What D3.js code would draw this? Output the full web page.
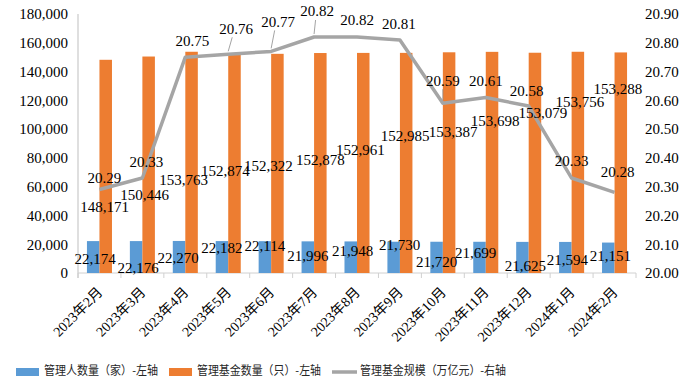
<!DOCTYPE html>
<html>
<head>
<meta charset="utf-8">
<script src="https://cdn.jsdelivr.net/npm/d3@7"></script>
<style>
  body { margin: 0; background: #fff; }
  svg { display: block; }
  .num { font-family: "Liberation Serif", "Times New Roman", serif; font-size: 15px; fill: #000; }
</style>
</head>
<body>
<div id="chart"></div>
<script>
// Data
const months = ["2023年2月", "2023年3月", "2023年4月", "2023年5月", "2023年6月", "2023年7月",
    "2023年8月", "2023年9月", "2023年10月", "2023年11月", "2023年12月", "2024年1月", "2024年2月"];
const managers = [22174, 22176, 22270, 22182, 22114, 21996, 21948, 21730, 21720, 21699, 21625, 21594, 21151];
const funds = [148171, 150446, 153763, 152874, 152322, 152878, 152961, 152985, 153387, 153698, 153079, 153756, 153288];
const scale = [20.29, 20.33, 20.75, 20.76, 20.77, 20.82, 20.82, 20.81, 20.59, 20.61, 20.58, 20.33, 20.28];

// label nudges (pixels) as placed in the original chart
const managerLabelOffset = [[2, 19], [2, 28], [-1, 19], [0, 8], [0, 6], [0, 16], [2, 11], [6, 5], [0, 22], [-4, 13], [3, 26], [2, 20], [2, 15]];
const fundLabelOffset = [[-1, 149], [-4, 140], [-8, 130], [-9, 120], [-9, 114], [0, 109], [-3, 99], [-1, 85], [4, 81], [3, 71], [8, 62], [2, 52], [-3, 38]];
const scaleLabelOffset = [[5, -10], [4, -14], [7, -15], [8, -24], [7, -28], [3, -24], [0, -15], [-1, -14], [0, -21], [0, -15], [-2, -14], [0, -15], [3, -19]];

const width = 700, height = 384;
const plotLeft = 78, plotRight = 636, plotTop = 14, plotBottom = 273;

const svg = d3.select("#chart")
    .append("svg")
    .attr("width", width)
    .attr("height", height);

// Scales
const pad = 0.417;
const x = d3.scaleBand()
    .domain(months)
    .range([plotLeft, plotRight])
    .paddingInner(pad)
    .paddingOuter(pad / 2);

const xSub = d3.scaleBand()
    .domain(["managers", "funds"])
    .range([0, x.bandwidth()]);

const yLeft = d3.scaleLinear().domain([0, 180000]).range([plotBottom, plotTop]);
const yRight = d3.scaleLinear().domain([20.0, 20.9]).range([plotBottom, plotTop]);

const step = x.step();
const center = d => x(d) + x.bandwidth() / 2;

// Axes
const axisL = svg.append("g")
    .attr("transform", `translate(${plotLeft},0)`)
    .call(d3.axisLeft(yLeft).tickValues(d3.range(0, 180001, 20000)).tickSize(0).tickPadding(10).tickFormat(d3.format(",")));
axisL.select(".domain").attr("stroke", "#bfbfbf").attr("d", `M0,${plotTop}V${plotBottom + 5}`);
axisL.selectAll("text").attr("class", "num");

const axisR = svg.append("g")
    .attr("transform", `translate(${plotRight},0)`)
    .call(d3.axisRight(yRight).tickValues(d3.range(0, 10).map(i => 20 + i * 0.1)).tickSize(0).tickPadding(9).tickFormat(d3.format(".2f")));
axisR.select(".domain").remove();
axisR.selectAll("text").attr("class", "num");

// bottom axis with category boundary ticks
svg.append("line")
    .attr("x1", plotLeft).attr("x2", plotRight)
    .attr("y1", plotBottom).attr("y2", plotBottom)
    .attr("stroke", "#d0d0d0");
svg.selectAll(".xtick")
    .data(months.concat(["end"]))
    .enter().append("line")
    .attr("class", "xtick")
    .attr("x1", (d, i) => plotLeft + i * step)
    .attr("x2", (d, i) => plotLeft + i * step)
    .attr("y1", plotBottom).attr("y2", plotBottom + 5)
    .attr("stroke", "#d0d0d0");

svg.selectAll(".xlabel")
    .data(months)
    .enter().append("text")
    .attr("class", "xlabel")
    .attr("transform", d => `translate(${center(d) + 4},${plotBottom + 20}) rotate(-45)`)
    .attr("text-anchor", "end")
    .style("font-family", "'Liberation Serif', 'Noto Sans CJK SC', serif")
    .style("font-size", "14px")
    .text(d => d);

// Bars
svg.selectAll(".bar-managers")
    .data(managers)
    .enter().append("rect")
    .attr("class", "bar-managers")
    .attr("x", (d, i) => x(months[i]) + xSub("managers"))
    .attr("y", d => yLeft(d))
    .attr("width", xSub.bandwidth())
    .attr("height", d => plotBottom - yLeft(d))
    .attr("fill", "#5b9bd5");

svg.selectAll(".bar-funds")
    .data(funds)
    .enter().append("rect")
    .attr("class", "bar-funds")
    .attr("x", (d, i) => x(months[i]) + xSub("funds"))
    .attr("y", d => yLeft(d))
    .attr("width", xSub.bandwidth())
    .attr("height", d => plotBottom - yLeft(d))
    .attr("fill", "#ed7d31");

// Line
const line = d3.line()
    .x((d, i) => center(months[i]))
    .y(d => yRight(d));

svg.append("path")
    .datum(scale)
    .attr("d", line)
    .attr("fill", "none")
    .attr("stroke", "#a5a5a5")
    .attr("stroke-width", 3.5)
    .attr("stroke-linejoin", "round");

// leader lines for labels pushed further away
svg.selectAll(".leader")
    .data(scale.map((d, i) => ({ v: d, i: i })).filter(d => scaleLabelOffset[d.i][1] <= -20))
    .enter().append("line")
    .attr("class", "leader")
    .attr("x1", d => center(months[d.i]))
    .attr("y1", d => yRight(d.v) - 3)
    .attr("x2", d => center(months[d.i]) + scaleLabelOffset[d.i][0] * 0.5)
    .attr("y2", d => yRight(d.v) + scaleLabelOffset[d.i][1] + 7)
    .attr("stroke", "#8c8c8c")
    .attr("stroke-width", 0.8);

// Data labels
const fmt = d3.format(",");
svg.selectAll(".lbl-managers")
    .data(managers)
    .enter().append("text")
    .attr("class", "num")
    .attr("text-anchor", "middle")
    .attr("dominant-baseline", "middle")
    .attr("x", (d, i) => x(months[i]) + xSub("managers") + xSub.bandwidth() / 2 + managerLabelOffset[i][0])
    .attr("y", (d, i) => yLeft(d) + managerLabelOffset[i][1])
    .text(d => fmt(d));

svg.selectAll(".lbl-funds")
    .data(funds)
    .enter().append("text")
    .attr("class", "num")
    .attr("text-anchor", "middle")
    .attr("dominant-baseline", "middle")
    .attr("x", (d, i) => x(months[i]) + xSub("funds") + xSub.bandwidth() / 2 + fundLabelOffset[i][0])
    .attr("y", (d, i) => yLeft(d) + fundLabelOffset[i][1])
    .text(d => fmt(d));

svg.selectAll(".lbl-scale")
    .data(scale)
    .enter().append("text")
    .attr("class", "num")
    .attr("text-anchor", "middle")
    .attr("dominant-baseline", "middle")
    .attr("x", (d, i) => center(months[i]) + scaleLabelOffset[i][0])
    .attr("y", (d, i) => yRight(d) + scaleLabelOffset[i][1])
    .text(d => d.toFixed(2));

// Legend
const legendItems = [
    { type: "rect", color: "#5b9bd5", text: "管理人数量（家）-左轴", x: 16, w: 114 },
    { type: "rect", color: "#ed7d31", text: "管理基金数量（只）-左轴", x: 169, w: 124 },
    { type: "line", color: "#a5a5a5", text: "管理基金规模（万亿元）-右轴", x: 332, w: 146 }
];
const legend = svg.append("g").attr("transform", "translate(0, 372)");
legendItems.forEach(d => {
    if (d.type === "rect") {
        legend.append("rect")
            .attr("x", d.x).attr("y", -4)
            .attr("width", 23).attr("height", 8)
            .attr("fill", d.color);
    } else {
        legend.append("line")
            .attr("x1", d.x).attr("x2", d.x + 25)
            .attr("y1", 0).attr("y2", 0)
            .attr("stroke", d.color)
            .attr("stroke-width", 3.5);
    }
    legend.append("text")
        .attr("x", d.x + 28)
        .attr("y", 0)
        .attr("dominant-baseline", "middle")
        .attr("textLength", d.w)
        .attr("lengthAdjust", "spacingAndGlyphs")
        .style("font-family", "'Noto Sans CJK SC', sans-serif")
        .style("font-size", "12px")
        .style("fill", "#262626")
        .text(d.text);
});
</script>
</body>
</html>
